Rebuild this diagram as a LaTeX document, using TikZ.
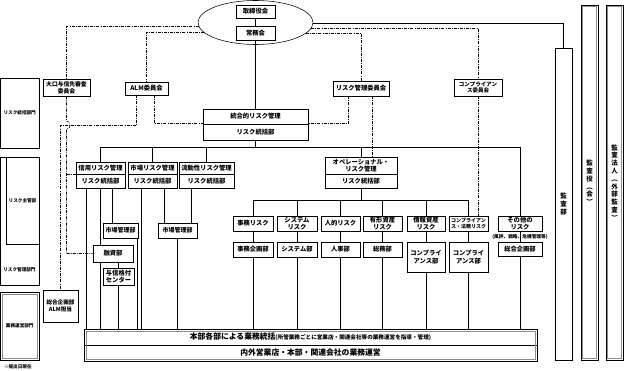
\documentclass[tikz,border=0pt]{standalone}
\usepackage{fontspec}
\setmainfont{Noto Sans CJK JP}
\usetikzlibrary{shapes.geometric,shadows}
\tikzset{
  ln/.style={line width=0.55pt, draw=black},
  dd/.style={line width=0.55pt, draw=black, dash pattern=on 3pt off 1.2pt on 0.8pt off 1.2pt},
  bx0/.style={draw=black, line width=0.55pt, fill=white, inner sep=0pt, align=center,
    font=\bfseries\fontsize{6.3}{7.2}\selectfont},
  bx/.style={bx0, drop shadow={shadow xshift=0.8pt, shadow yshift=-0.8pt, fill=black!40, opacity=1}},
  inner/.style={draw=black!45, line width=0.5pt},
  vt/.style={font=\bfseries\fontsize{6.5}{7.8}\selectfont},
  sm/.style={font=\bfseries\fontsize{4.6}{5.6}\selectfont},
}
\newcommand\bxn[7][bx]{%
  \pgfmathsetmacro\bxw{#5-#3}%
  \pgfmathsetmacro\bxh{#6-#4}%
  \pgfmathsetmacro\bxx{(#3+#5)/2}%
  \pgfmathsetmacro\bxy{(#4+#6)/2}%
  \node[#1,minimum width=\bxw pt,minimum height=\bxh pt] (#2) at (\bxx,\bxy) {#7};%
}
\begin{document}
\begin{tikzpicture}[x=1pt,y=-1pt]
\useasboundingbox (0,0) rectangle (625,371);
% board ellipse
\node[ellipse, draw=black, line width=0.55pt, minimum width=115pt, minimum height=44pt, inner sep=0pt] (board) at (255.5,22.5) {};
\bxn{tori}{236}{5}{275}{18}{取締役会}
\bxn{jomu}{236}{26}{275}{40}{常務会}
% committees
\bxn[bx,font=\bfseries\fontsize{5.8}{6.8}\selectfont]{ooguchi}{43}{79}{90}{96}{大口与信先審査\\委員会}
\bxn{almc}{125}{82}{168}{95}{ALM委員会}
\bxn{riskc}{333}{81}{389}{96}{リスク管理委員会}
\bxn[bx,font=\bfseries\fontsize{5.5}{6.6}\selectfont]{compc}{454}{79}{502}{96}{コンプライアン\\ス委員会}
% integrated
\bxn{togo1}{203}{109}{308}{124}{統合的リスク管理}
\bxn{togo2}{203}{124}{308}{140}{リスク統括部}
% main risks
\bxn{shin1}{76}{162}{125}{174}{信用リスク管理}
\bxn{shin2}{76}{174}{125}{188}{リスク統括部}
\bxn{ichiba1}{128}{162}{177}{174}{市場リスク管理}
\bxn{ichiba2}{128}{174}{177}{188}{リスク統括部}
\bxn{ryudo1}{179}{162}{234}{174}{流動性リスク管理}
\bxn{ryudo2}{179}{174}{234}{188}{リスク統括部}
\bxn{ope1}{325}{157}{397}{174}{オペレーショナル・\\リスク管理}
\bxn{ope2}{325}{174}{397}{188}{リスク統括部}
% operational sub risks
\bxn{jimu}{233}{216}{273}{231}{事務リスク}
\bxn{sys}{277}{216}{317}{231}{システム\\リスク}
\bxn{jinteki}{321}{216}{360}{231}{人的リスク}
\bxn{yukei}{363}{216}{402}{231}{有形資産\\リスク}
\bxn{joho}{407}{216}{445}{231}{情報資産\\リスク}
\bxn[bx,font=\bfseries\fontsize{5}{6.2}\selectfont]{comprisk}{449}{216}{488}{231}{コンプライアン\\ス・法務リスク}
\bxn{sonota}{498}{216}{542}{231}{その他の\\リスク}
% departments
\bxn{jimubu}{233}{242}{273}{257}{事務企画部}
\bxn{sysbu}{277}{242}{317}{257}{システム部}
\bxn{jinji}{321}{242}{360}{257}{人事部}
\bxn{somu}{363}{242}{402}{257}{総務部}
\bxn{compbu1}{407}{242}{445}{272}{コンプライ\\アンス部}
\bxn{compbu2}{449}{242}{488}{272}{コンプライ\\アンス部}
\bxn{sogo}{498}{242}{542}{256}{総合企画部}
\bxn[bx,font=\bfseries\fontsize{6}{7}\selectfont]{ichikan1}{103}{223}{138}{238}{市場管理部}
\bxn[bx,font=\bfseries\fontsize{6}{7}\selectfont]{ichikan2}{158}{223}{197}{238}{市場管理部}
\bxn{yushi}{93}{245}{133}{262}{融資部}
\bxn{yoshin}{103}{268}{134}{285}{与信格付\\センター}
\bxn[bx,font=\bfseries\fontsize{5.6}{6.8}\selectfont]{almtan}{43}{290}{78}{322}{総合企画部\\ALM担当}
% bottom
\bxn[bx0]{gyomu}{84}{329}{537}{345}{{\fontsize{7.8}{9}\selectfont 本部各部による業務統括}{\fontsize{5.6}{7}\selectfont (所管業務ごとに営業店・関連会社等の業務運営を指導・管理)}}
\bxn[bx0,font=\bfseries\fontsize{7.8}{9}\selectfont]{unei}{84}{345}{537}{361}{内外営業店・本部・関連会社の業務運営}
\draw[inner] ([shift={(2.5pt,-2.5pt)}]gyomu.north west) rectangle ([shift={(-2.5pt,2.5pt)}]unei.south east);
% audit columns
\bxn[bx,vt]{kansa}{555}{48}{572}{360}{監\\査\\部}
\bxn[bx0,vt]{kansayaku}{581}{5}{598}{360}{監\\査\\役\\︵\\会\\︶}
\bxn[bx0,vt]{kansahojin}{606}{5}{623}{360}{監\\査\\法\\人\\︵\\外\\部\\監\\査\\︶}
\draw[inner] ([shift={(2pt,-2pt)}]kansayaku.north west) rectangle ([shift={(-2pt,2pt)}]kansayaku.south east);
\draw[inner] ([shift={(2pt,-2pt)}]kansahojin.north west) rectangle ([shift={(-2pt,2pt)}]kansahojin.south east);
% left column
\bxn[bx0,sm]{ltogo}{0.5}{78}{39}{148}{リスク統括部門}
\bxn[bx0,sm]{lkanri}{0.5}{157}{39}{285}{}
\bxn[bx0,sm]{lshukan}{6}{157}{39}{244}{リスク主管部}
\node[sm] (lkanriL) at (19.5,270) {リスク管理部門};
\bxn[bx0,sm]{lgyomu}{0.5}{292}{39}{360}{業務運営部門}
\draw[inner] ([shift={(2.5pt,-2.5pt)}]lgyomu.north west) rectangle ([shift={(-2.5pt,2.5pt)}]lgyomu.south east);
\node[sm, anchor=west] (note) at (0.5,367) {※提出日現在};

% ---------- connectors ----------
\draw[ln] (tori.south) -- (jomu.north);
\draw[ln] (jomu.south) -- (togo1.north);
\draw[dd] (board.184.57) -| (ooguchi.north);
\draw[dd] (board.191.66) -| (almc.north);
\draw[dd] (board.348.34) -| (riskc.north);
\draw[dd] (board.354.37) -| (compc.north);
\draw[dd] (compc.south) -- (compc.south |- comprisk.north);
\draw[ln] (board.359.5) -| (kansa.north);
% ooguchi line with hop
\coordinate (hopA) at (66.5,121);
\coordinate (hopB) at (66.5,129);
\draw[dd] (ooguchi.south) -- (hopA) .. controls (71.5,121) and (71.5,129) .. (hopB) -- (ooguchi.south |- yushi.west) -- (yushi.west);
\draw[dd] (ooguchi.south |- shin1.south west) -- (shin1.south west);
% ALM legs
\coordinate (almL) at ([xshift=12pt]almc.south west);
\coordinate (almR) at ([xshift=30pt]almc.south west);
\draw[dd] (almL) -- ++(0,30) -| (almtan.north);
\draw[dd] (almR) |- (togo2.north west);
% risk committee legs
\coordinate (rcL) at ([xshift=16pt]riskc.south west);
\coordinate (rcR) at ([xshift=40pt]riskc.south west);
\draw[dd] (rcL) |- (togo2.north east);
\draw[dd] (rcR) -- (rcR |- ope1.north);
% main bus
\coordinate (bus) at (255.5,147);
\draw[ln] (togo2.south) -- (bus);
\draw[ln] (shin1.north) |- (bus);
\draw[ln] (sonota.north) |- (bus);
\draw[ln] (ichiba1.north) -- (ichiba1.north |- bus);
\draw[ln] (ryudo1.north) -- (ryudo1.north |- bus);
\draw[ln] (ope1.north) -- (ope1.north |- bus);
% operational bus
\coordinate (obus) at (361,200);
\draw[ln] (ope2.south) -- (obus);
\draw[ln] (jimu.north) |- (obus);
\draw[ln] (comprisk.north) |- (obus);
\draw[ln] (sys.north) -- (sys.north |- obus);
\draw[ln] (jinteki.north) -- (jinteki.north |- obus);
\draw[ln] (yukei.north) -- (yukei.north |- obus);
\draw[ln] (joho.north) -- (joho.north |- obus);
% risk -> dept
\draw[ln] (jimu.south) -- (jimubu.north);
\draw[ln] (sys.south) -- (sysbu.north);
\draw[ln] (jinteki.south) -- (jinji.north);
\draw[ln] (yukei.south) -- (somu.north);
\draw[ln] (joho.south) -- (compbu1.north);
\draw[ln] (comprisk.south) -- (compbu2.north);
\draw[ln] (sonota.south) -- (sogo.north);
\node[font=\bfseries\fontsize{4.7}{5.5}\selectfont] (sonotaN) at (520,236.8) {(風評、戦略、危機管理等)};
% dept -> bottom
\foreach \d in {jimubu,sysbu,jinji,somu,compbu1,compbu2,sogo}
  \draw[ln] (\d.south) -- (\d.south |- gyomu.north);
% left tree
\coordinate (sA) at ([xshift=11pt]shin2.south west);
\coordinate (sC) at ([xshift=37pt]shin2.south west);
\draw[ln] (sA) -- (sA |- gyomu.north);
\draw[ln] (shin2.south) -- (shin2.south |- yushi.north);
\draw[ln] (sC) -- (sC |- ichikan1.north);
\draw[ln] (shin2.south |- yushi.south) -- (shin2.south |- gyomu.north);
\draw[ln] (yoshin.north |- yushi.south) -- (yoshin.north);
\draw[ln] (yoshin.south) -- (yoshin.south |- gyomu.north);
\coordinate (mA) at ([xshift=-1.5pt]ichikan1.south east);
\draw[ln] (mA) -- (mA |- gyomu.north);
\coordinate (iA) at ([xshift=14pt]ichiba2.south west);
\coordinate (iB) at ([xshift=37pt]ichiba2.south west);
\draw[ln] (iA) -- (iA |- gyomu.north);
\draw[ln] (iB) -- (iB |- ichikan2.north);
\coordinate (rA) at ([xshift=13pt]ryudo2.south west);
\draw[ln] (rA) -- (rA |- ichikan2.north);
\draw[ln] (ichikan2.south) -- (ichikan2.south |- gyomu.north);
\end{tikzpicture}
\end{document}
